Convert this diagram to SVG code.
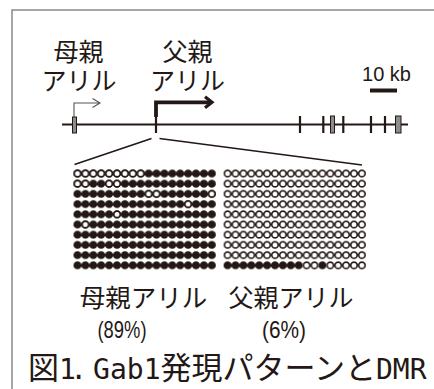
<svg xmlns="http://www.w3.org/2000/svg" width="434" height="389" viewBox="0 0 434 389">
<style>
.jp{font-family:"Noto Sans CJK JP","Noto Sans",sans-serif;fill:#231815}
.lab{font-size:25px;text-anchor:middle}
.sans{font-family:"Liberation Sans","Noto Sans",sans-serif;fill:#231815}
.mono{font-family:"DejaVu Sans Mono","Liberation Mono",monospace;font-size:28px}
.ln{stroke:#231815;fill:none}
.gbox{fill:#8c8c8c;stroke:#231815;stroke-width:1}
</style>
<defs>
<pattern id="pf" patternUnits="userSpaceOnUse" x="73.55" y="168.4" width="7.9" height="10.2">
<circle cx="3.95" cy="5.1" r="4" fill="#231815"/>
</pattern>
<pattern id="po" patternUnits="userSpaceOnUse" x="73.55" y="168.4" width="7.9" height="10.2">
<circle cx="3.95" cy="5.1" r="3.2" fill="#fff" stroke="#231815" stroke-width="1.6"/>
</pattern>
</defs>
<rect width="434" height="389" fill="#fff"/>
<g id="frame">
<path d="M12,389 V10 H434" fill="none" stroke="#8a8a8a" stroke-width="1.5"/>
</g>
<g id="allele-labels">
<text class="jp lab"><tspan x="78.5" y="60.5">母親</tspan><tspan x="79" y="89.5">アリル</tspan></text>
<text class="jp lab"><tspan x="187.5" y="60.5">父親</tspan><tspan x="187.5" y="89.5">アリル</tspan></text>
</g>
<g id="scale">
<text class="sans" x="386.5" y="81" font-size="20" text-anchor="middle">10 kb</text>
<path class="ln" d="M370,90.5 H397" stroke-width="4"/>
</g>
<g id="genome">
<path class="ln" d="M62,124.5 H408" stroke-width="2"/>
<path class="ln" d="M156,117 V133 M300,116 V133 M323.3,116 V133 M343.3,116 V133 M371,116 V133 M385,116 V133" stroke-width="2.2"/>
<rect class="gbox" x="72.5" y="117" width="4" height="16"/>
<rect class="gbox" x="330.5" y="116" width="4" height="17"/>
<rect class="gbox" x="395.5" y="116" width="5.5" height="17"/>
</g>
<g id="arrows">
<path d="M74,117 V103 H100 M92.5,98.5 L100,103 L92.5,107.5" fill="none" stroke="#555" stroke-width="1.1"/>
<path class="ln" d="M156,117 V102.3 H211" stroke-width="3.8"/>
<path class="ln" d="M205,96.8 L212,102.3 L205,107.8" stroke-width="3.2"/>
</g>
<g id="connectors">
<path class="ln" d="M151.5,138.5 L74.5,164.5 M159.5,138.5 L362,165" stroke-width="1.6"/>
</g>
<g id="maternal-grid">
<rect x="73.55" y="168.4" width="142.2" height="102" fill="url(#pf)"/>
<rect x="73.55" y="168.4" width="71.1" height="10.2" fill="url(#po)"/>
<rect x="73.55" y="178.6" width="15.8" height="10.2" fill="url(#po)"/>
<rect x="105.15" y="178.6" width="15.8" height="10.2" fill="url(#po)"/>
<rect x="144.65" y="188.8" width="15.8" height="10.2" fill="url(#po)"/>
<rect x="207.85" y="188.8" width="7.9" height="10.2" fill="url(#po)"/>
<rect x="184.15" y="199" width="7.9" height="10.2" fill="url(#po)"/>
<rect x="113.05" y="209.2" width="7.9" height="10.2" fill="url(#po)"/>
<rect x="81.45" y="219.4" width="7.9" height="10.2" fill="url(#po)"/>
</g>
<g id="paternal-grid">
<rect x="223.65" y="168.4" width="142.2" height="91.8" fill="url(#po)"/>
<rect x="223.65" y="260.2" width="79" height="10.2" fill="url(#pf)"/>
<rect x="302.65" y="260.2" width="15.8" height="10.2" fill="url(#po)"/>
<rect x="318.45" y="260.2" width="7.9" height="10.2" fill="url(#pf)"/>
<rect x="326.35" y="260.2" width="39.5" height="10.2" fill="url(#po)"/>
</g>
<g id="grid-labels">
<text class="jp" x="143.5" y="307" font-size="25.5" text-anchor="middle">母親アリル</text>
<text class="jp" x="291" y="307" font-size="25" text-anchor="middle">父親アリル</text>
<text class="sans" x="122" y="338" font-size="24" text-anchor="middle" textLength="49" lengthAdjust="spacingAndGlyphs">(89%)</text>
<text class="sans" x="284" y="338" font-size="24" text-anchor="middle" textLength="44" lengthAdjust="spacingAndGlyphs">(6%)</text>
</g>
<g id="title">
<text class="jp" x="28" y="379" font-size="31">図<tspan class="mono" letter-spacing="-5.5">1. </tspan><tspan class="mono">Gab1</tspan>発現パターンと<tspan class="mono">DMR</tspan></text>
</g>
</svg>
